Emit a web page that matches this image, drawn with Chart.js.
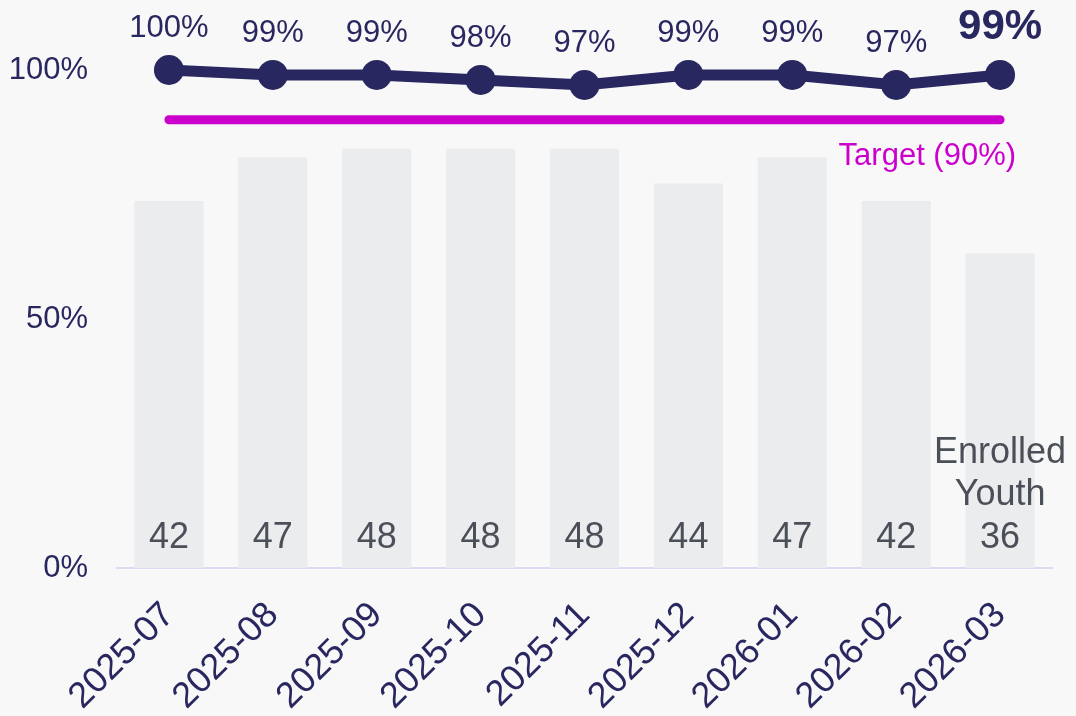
<!DOCTYPE html>
<html>
<head>
<meta charset="utf-8">
<title>Attendance rate</title>
<script src="https://cdn.jsdelivr.net/npm/chart.js@4/dist/chart.umd.min.js"></script>
<style>
  body { margin: 0; background: #f8f8f8; }
  canvas { display: block; }
</style>
</head>
<body>
<canvas id="rateChart" width="1076" height="716"></canvas>
<script>
const months = ['2025-07', '2025-08', '2025-09', '2025-10', '2025-11', '2025-12', '2026-01', '2026-02', '2026-03'];
const attendanceRate = [100, 99, 99, 98, 97, 99, 99, 97, 99];
const enrolledYouth = [42, 47, 48, 48, 48, 44, 47, 42, 36];
const targetRate = [90, 90, 90, 90, 90, 90, 90, 90, 90];
const rateTicks = [0, 50, 100];

const NAVY = '#29275f';
const MAGENTA = '#cc00cc';
const GREY_TEXT = '#4b5058';
const FONT = 'Arial, "Liberation Sans", sans-serif';

// text drawn on top of the marks: counts, rates, target caption
const valueLabels = {
  id: 'valueLabels',
  afterDatasetsDraw(chart) {
    const ctx = chart.ctx;
    const last = months.length - 1;
    const bars = chart.getDatasetMeta(0).data;
    const points = chart.getDatasetMeta(2).data;
    ctx.save();
    ctx.textAlign = 'center';
    ctx.textBaseline = 'alphabetic';

    ctx.fillStyle = GREY_TEXT;
    ctx.font = '36px ' + FONT;
    bars.forEach((bar, i) => {
      ctx.fillText(enrolledYouth[i], bar.x, bar.base - 20);
    });
    ctx.fillText('Youth', bars[last].x, bars[last].base - 63);
    ctx.fillText('Enrolled', bars[last].x, bars[last].base - 105);

    ctx.fillStyle = NAVY;
    points.forEach((pt, i) => {
      if (i === last) {
        ctx.font = 'bold 42px ' + FONT;
        ctx.fillText(attendanceRate[i] + '%', pt.x, pt.y - 36);
      } else {
        ctx.font = '31px ' + FONT;
        ctx.fillText(attendanceRate[i] + '%', pt.x, pt.y - 33);
      }
    });

    ctx.fillStyle = MAGENTA;
    ctx.font = '31px ' + FONT;
    ctx.textAlign = 'right';
    const ty = chart.scales.y.getPixelForValue(targetRate[last]);
    ctx.fillText('Target (90%)', points[last].x + 16, ty + 45);
    ctx.restore();
  }
};

new Chart(document.getElementById('rateChart'), {
  data: {
    labels: months,
    datasets: [
      {
        type: 'bar',
        data: enrolledYouth,
        yAxisID: 'y1',
        backgroundColor: '#ebecee',
        barPercentage: 0.665,
        categoryPercentage: 1,
        order: 3
      },
      {
        type: 'line',
        data: targetRate,
        borderColor: MAGENTA,
        borderWidth: 9,
        borderCapStyle: 'round',
        pointRadius: 0,
        clip: false,
        order: 2
      },
      {
        type: 'line',
        data: attendanceRate,
        borderColor: NAVY,
        borderWidth: 11,
        pointRadius: 15,
        pointBackgroundColor: NAVY,
        pointBorderWidth: 0,
        clip: false,
        order: 1
      }
    ]
  },
  options: {
    responsive: false,
    animation: false,
    layout: { padding: { top: 70, right: 24, left: 0, bottom: 0 } },
    plugins: { legend: { display: false }, tooltip: { enabled: false } },
    scales: {
      x: {
        grid: { display: false, drawTicks: false },
        border: { color: '#dcdaf2', width: 2 },
        ticks: {
          color: NAVY,
          font: { family: FONT, size: 36 },
          minRotation: 45,
          maxRotation: 45,
          padding: 26
        },
        afterFit(scale) { scale.height = 148; }
      },
      y: {
        min: 0,
        max: 100,
        grid: { display: false, drawTicks: false },
        border: { display: false },
        ticks: {
          color: NAVY,
          font: { family: FONT, size: 31 },
          padding: 29,
          callback: v => v + '%'
        },
        afterBuildTicks(scale) { scale.ticks = rateTicks.map(v => ({ value: v })); },
        afterFit(scale) { scale.width = 117; }
      },
      y1: {
        display: false,
        min: 0,
        max: 57
      }
    }
  },
  plugins: [valueLabels]
});
</script>
</body>
</html>
